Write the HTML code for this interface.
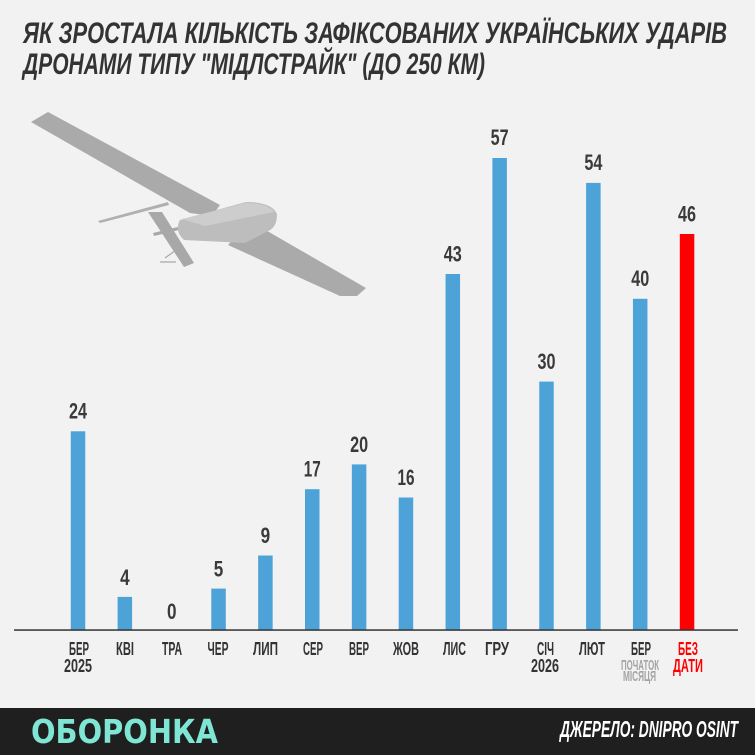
<!DOCTYPE html>
<html><head><meta charset="utf-8"><style>
html,body{margin:0;padding:0;background:#f2f2f2;}
svg{display:block;}
.t{font-family:"Liberation Sans Narrow","Liberation Sans","DejaVu Sans",sans-serif;font-weight:bold;}
</style></head><body>
<svg width="755" height="755" viewBox="0 0 755 755" xmlns="http://www.w3.org/2000/svg">
<rect x="0" y="0" width="755" height="755" fill="#f2f2f2"/>
<!-- title -->
<text class="t" x="23" y="43" font-size="29.5" font-style="italic" fill="#333" textLength="704" lengthAdjust="spacingAndGlyphs">ЯК ЗРОСТАЛА КІЛЬКІСТЬ ЗАФІКСОВАНИХ УКРАЇНСЬКИХ УДАРІВ</text>
<text class="t" x="23" y="74" font-size="29.5" font-style="italic" fill="#333" textLength="462" lengthAdjust="spacingAndGlyphs">ДРОНАМИ ТИПУ "МІДЛСТРАЙК" (ДО 250 КМ)</text>

<!-- drone -->
<g>
<polygon points="31,122 48,112 220,205 212,216 190,213" fill="#aaaaaa"/>
<polygon points="98,221 168,202 169,205 100,223" fill="#b0b0b0"/>
<polygon points="148,212 162,212 194,263 184,267" fill="#a8a8a8"/>
<polygon points="153,233 182,226 183,229 154,236" fill="#a8a8a8"/>
<path d="M165,258 L176,250 M160,262 L176,262 M172,245 L182,262" stroke="#a8a8a8" stroke-width="1.2" fill="none"/>
<polygon points="240,232 262,228 366,288 357,296 340,296 228,245" fill="#aaaaaa"/>
<path d="M180,220 L246,202 Q272,202 277,214 Q277,226 270,230 L245,243 L184,240 Q174,231 180,220 Z" fill="#bdbdbd"/>
<path d="M182,219 L246,203 Q268,203 274,212 L205,226 Z" fill="#cdcdcd"/>
</g>

<!-- bars -->
<g fill="#4da3d8">
<rect x="70.75" y="431.3" width="14.5" height="198.7"/>
<rect x="117.6" y="596.9" width="14.5" height="33.1"/>
<rect x="211.3" y="588.6" width="14.5" height="41.4"/>
<rect x="258.15" y="555.5" width="14.5" height="74.5"/>
<rect x="305" y="489.2" width="14.5" height="140.8"/>
<rect x="351.85" y="464.4" width="14.5" height="165.6"/>
<rect x="398.7" y="497.5" width="14.5" height="132.5"/>
<rect x="445.55" y="274" width="14.5" height="356"/>
<rect x="492.4" y="158" width="14.5" height="472"/>
<rect x="539.25" y="381.6" width="14.5" height="248.4"/>
<rect x="586.1" y="182.9" width="14.5" height="447.1"/>
<rect x="632.95" y="298.8" width="14.5" height="331.2"/>
</g>
<rect x="679.8" y="234" width="14.5" height="396" fill="#ff0000"/>

<!-- axis -->
<rect x="14" y="629.3" width="724" height="1.5" fill="#333"/>

<!-- values -->
<g class="t" font-size="22.5" fill="#3a3a3a" text-anchor="middle">
<text x="78" y="418.3" textLength="18" lengthAdjust="spacingAndGlyphs">24</text>
<text x="124.85" y="584.9" textLength="9.5" lengthAdjust="spacingAndGlyphs">4</text>
<text x="171.7" y="619" textLength="9.5" lengthAdjust="spacingAndGlyphs">0</text>
<text x="218.55" y="576.6" textLength="9.5" lengthAdjust="spacingAndGlyphs">5</text>
<text x="265.4" y="543" textLength="9.5" lengthAdjust="spacingAndGlyphs">9</text>
<text x="312.25" y="476.7" textLength="17" lengthAdjust="spacingAndGlyphs">17</text>
<text x="359.1" y="451.9" textLength="18" lengthAdjust="spacingAndGlyphs">20</text>
<text x="405.95" y="485" textLength="17" lengthAdjust="spacingAndGlyphs">16</text>
<text x="452.8" y="261.3" textLength="18" lengthAdjust="spacingAndGlyphs">43</text>
<text x="499.65" y="145.2" textLength="18" lengthAdjust="spacingAndGlyphs">57</text>
<text x="546.5" y="369" textLength="18" lengthAdjust="spacingAndGlyphs">30</text>
<text x="593.35" y="170.2" textLength="18" lengthAdjust="spacingAndGlyphs">54</text>
<text x="640.2" y="286.2" textLength="18" lengthAdjust="spacingAndGlyphs">40</text>
<text x="687.05" y="221.3" textLength="18" lengthAdjust="spacingAndGlyphs">46</text>
</g>

<!-- x labels -->
<g class="t" font-size="18.5" fill="#333" text-anchor="middle">
<text x="79" y="655" textLength="20" lengthAdjust="spacingAndGlyphs">БЕР</text>
<text x="78" y="672" textLength="28" lengthAdjust="spacingAndGlyphs">2025</text>
<text x="125" y="655" textLength="18" lengthAdjust="spacingAndGlyphs">КВІ</text>
<text x="172" y="655" textLength="20" lengthAdjust="spacingAndGlyphs">ТРА</text>
<text x="218" y="655" textLength="21" lengthAdjust="spacingAndGlyphs">ЧЕР</text>
<text x="265.5" y="655" textLength="25" lengthAdjust="spacingAndGlyphs">ЛИП</text>
<text x="313" y="655" textLength="20" lengthAdjust="spacingAndGlyphs">СЕР</text>
<text x="359" y="655" textLength="20" lengthAdjust="spacingAndGlyphs">ВЕР</text>
<text x="406" y="655" textLength="26" lengthAdjust="spacingAndGlyphs">ЖОВ</text>
<text x="454.5" y="655" textLength="23" lengthAdjust="spacingAndGlyphs">ЛИС</text>
<text x="497" y="655" textLength="24" lengthAdjust="spacingAndGlyphs">ГРУ</text>
<text x="545.5" y="655" textLength="17" lengthAdjust="spacingAndGlyphs">СІЧ</text>
<text x="545" y="672" textLength="28" lengthAdjust="spacingAndGlyphs">2026</text>
<text x="592" y="655" textLength="26" lengthAdjust="spacingAndGlyphs">ЛЮТ</text>
<text x="641" y="655" textLength="20" lengthAdjust="spacingAndGlyphs">БЕР</text>
<text x="688" y="655" fill="#ff0000" textLength="20" lengthAdjust="spacingAndGlyphs">БЕЗ</text>
<text x="688" y="672" fill="#ff0000" textLength="30" lengthAdjust="spacingAndGlyphs">ДАТИ</text>
</g>
<g class="t" font-size="14.5" fill="#a3a3a3" text-anchor="middle" font-weight="normal">
<text x="640" y="670" textLength="38" lengthAdjust="spacingAndGlyphs">ПОЧАТОК</text>
<text x="639.5" y="681" textLength="33" lengthAdjust="spacingAndGlyphs">МІСЯЦЯ</text>
</g>

<!-- footer -->
<rect x="0" y="708" width="755" height="47" fill="#1f1f1f"/>
<text x="31" y="743" font-family="'DejaVu Sans','Liberation Sans',sans-serif" font-weight="bold" font-size="33" fill="#7fe5d4" textLength="187" lengthAdjust="spacingAndGlyphs">ОБОРОНКА</text>
<text class="t" x="560" y="737" font-size="23" font-style="italic" fill="#ffffff" textLength="178" lengthAdjust="spacingAndGlyphs">ДЖЕРЕЛО: DNIPRO OSINT</text>
</svg>
</body></html>
